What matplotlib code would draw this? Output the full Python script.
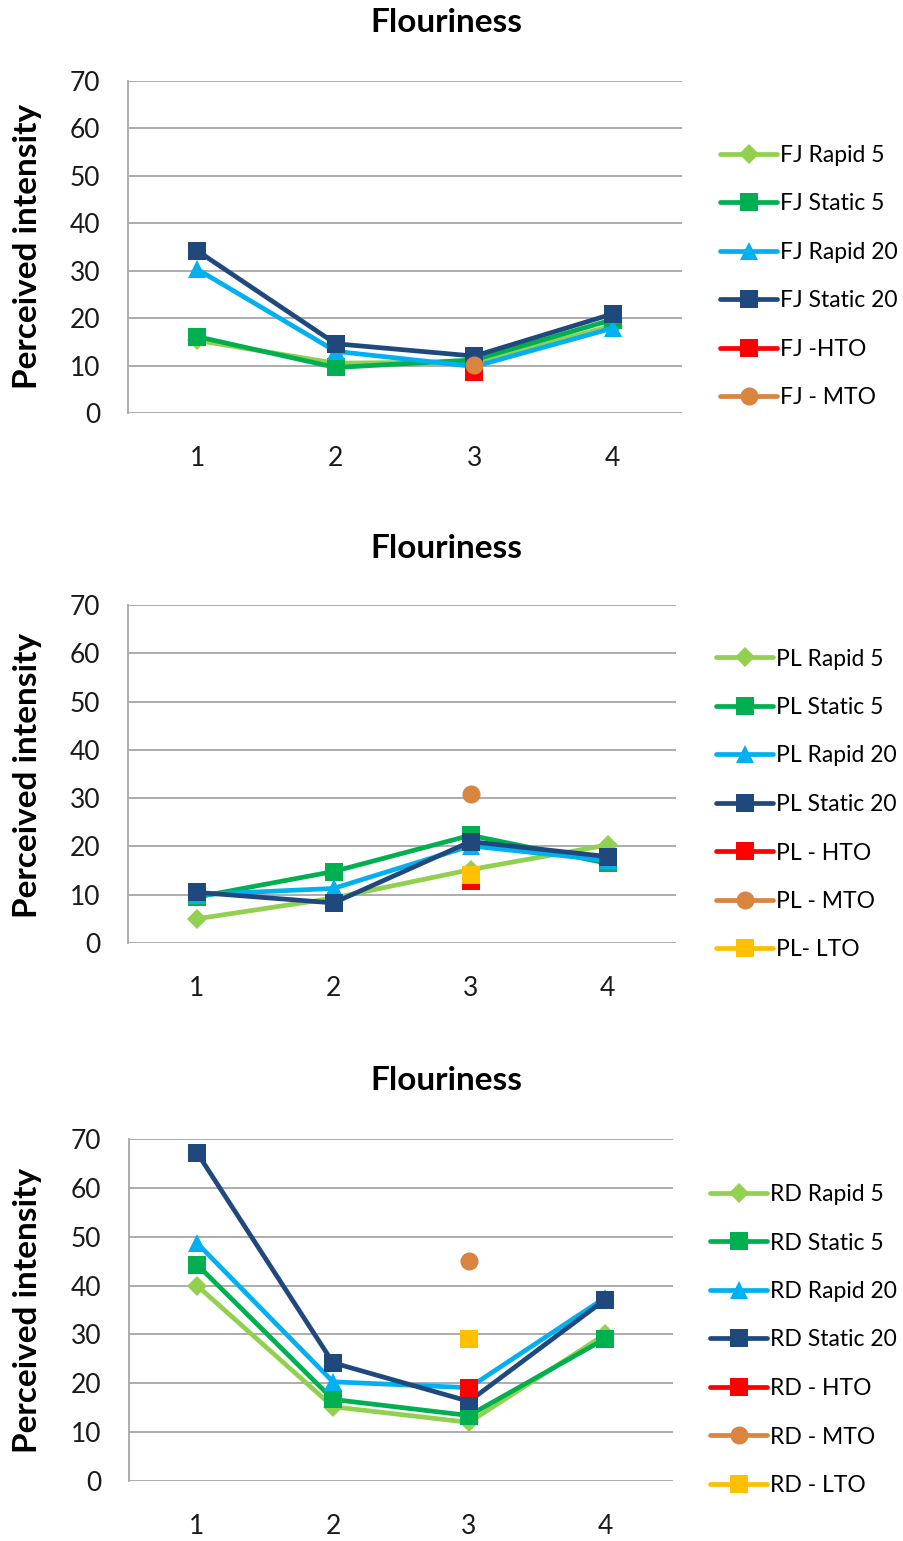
import matplotlib
matplotlib.use("Agg")
import matplotlib.pyplot as plt

plt.rcParams['font.family'] = ['Lato', 'DejaVu Sans']

W, H = 904, 1541
x_cats = [1, 2, 3, 4]
y_ticks = [0, 10, 20, 30, 40, 50, 60, 70]

# Panel 1: FJ
fj_rapid5 = [15.3, 10.5, 10.8, 18.4]
fj_static5 = [16.1, 9.6, 11.2, 19.7]
fj_rapid20 = [30.3, 13.0, 9.8, 17.9]
fj_static20 = [34.2, 14.6, 12.0, 20.9]
fj_hto = [None, None, 8.7, None]
fj_mto = [None, None, 10.1, None]

# Panel 2: PL
pl_rapid5 = [5.0, 9.3, 15.2, 20.3]
pl_static5 = [9.5, 14.8, 22.3, 16.5]
pl_rapid20 = [10.0, 11.3, 20.1, 17.1]
pl_static20 = [10.5, 8.3, 21.0, 17.9]
pl_hto = [None, None, 12.9, None]
pl_mto = [None, None, 30.8, None]
pl_lto = [None, None, 14.1, None]

# Panel 3: RD
rd_rapid5 = [40.0, 15.2, 12.0, 30.0]
rd_static5 = [44.3, 16.7, 13.4, 29.1]
rd_rapid20 = [48.7, 20.3, 19.1, 37.5]
rd_static20 = [67.2, 24.2, 16.3, 37.1]
rd_hto = [None, None, 19.1, None]
rd_mto = [None, None, 45.1, None]
rd_lto = [None, None, 29.1, None]

series_styles = {
    'Rapid 5': dict(color='#92D050', marker='D', ms=10),
    'Static 5': dict(color='#00B050', marker='s', ms=12.5),
    'Rapid 20': dict(color='#00B0F0', marker='^', ms=13.5),
    'Static 20': dict(color='#1F497D', marker='s', ms=12.5),
    'HTO': dict(color='#FF0000', marker='s', ms=12.5),
    'MTO': dict(color='#D9843F', marker='o', ms=13),
    'LTO': dict(color='#FFC000', marker='s', ms=12.5),
}

panels = [
    dict(data=[('FJ Rapid 5', 'Rapid 5', fj_rapid5), ('FJ Static 5', 'Static 5', fj_static5),
               ('FJ Rapid 20', 'Rapid 20', fj_rapid20), ('FJ Static 20', 'Static 20', fj_static20),
               ('FJ -HTO', 'HTO', fj_hto), ('FJ - MTO', 'MTO', fj_mto)],
         box=(128, 81, 682, 413), title_y=22, ylab_y=246, leg=(720, 276.5)),
    dict(data=[('PL Rapid 5', 'Rapid 5', pl_rapid5), ('PL Static 5', 'Static 5', pl_static5),
               ('PL Rapid 20', 'Rapid 20', pl_rapid20), ('PL Static 20', 'Static 20', pl_static20),
               ('PL - HTO', 'HTO', pl_hto), ('PL - MTO', 'MTO', pl_mto), ('PL- LTO', 'LTO', pl_lto)],
         box=(128, 605, 676, 943), title_y=548, ylab_y=775, leg=(716, 804.5)),
    dict(data=[('RD Rapid 5', 'Rapid 5', rd_rapid5), ('RD Static 5', 'Static 5', rd_static5),
               ('RD Rapid 20', 'Rapid 20', rd_rapid20), ('RD Static 20', 'Static 20', rd_static20),
               ('RD - HTO', 'HTO', rd_hto), ('RD - MTO', 'MTO', rd_mto), ('RD - LTO', 'LTO', rd_lto)],
         box=(129, 1139, 673, 1481), title_y=1080, ylab_y=1310, leg=(710, 1340)),
]

fig = plt.figure(figsize=(W / 100, H / 100), dpi=100)

for p in panels:
    l, t, r, b = p['box']
    ax = fig.add_axes([l / W, 1 - b / H, (r - l) / W, (b - t) / H])
    for label, key, vals in p['data']:
        st = series_styles[key]
        xs = [x for x, v in zip(x_cats, vals) if v is not None]
        ys = [v for v in vals if v is not None]
        ax.plot(xs, ys, color=st['color'], lw=3.4, marker=st['marker'], ms=st['ms'],
                markeredgewidth=0, label=label, solid_joinstyle='round', solid_capstyle='round')
    ax.set_xlim(0.5, 4.5)
    ax.set_ylim(0, 70)
    ax.set_xticks(x_cats)
    ax.set_xticklabels([str(x) for x in x_cats])
    ax.set_yticks(y_ticks)
    ax.set_yticklabels([str(y) for y in y_ticks])
    ax.yaxis.grid(True, color='#A6A6A6', lw=1.3)
    ax.set_axisbelow(True)
    for s in ['top', 'right', 'bottom']:
        ax.spines[s].set_visible(False)
    ax.spines['left'].set_color('#A6A6A6')
    ax.spines['left'].set_linewidth(1.3)
    ax.tick_params(axis='both', length=0, labelsize=19, colors='#1a1a1a')
    ax.tick_params(axis='y', pad=20)
    ax.tick_params(axis='x', pad=24)
    fig.text(446 / W, 1 - p['title_y'] / H, 'Flouriness', ha='center', va='center',
             fontsize=24, fontweight='bold')
    fig.text(28 / W, 1 - p['ylab_y'] / H, 'Perceived intensity', ha='center', va='center',
             rotation=90, fontsize=24, fontweight='bold')
    lx, ly = p['leg']
    ax.legend(loc='center left', bbox_to_anchor=(lx / W, 1 - ly / H), bbox_transform=fig.transFigure,
              frameon=False, fontsize=16.5, handlelength=2.5, handletextpad=0.1, labelspacing=1.2,
              borderpad=0, borderaxespad=0, numpoints=1)

fig.savefig('out.png', dpi=100)
